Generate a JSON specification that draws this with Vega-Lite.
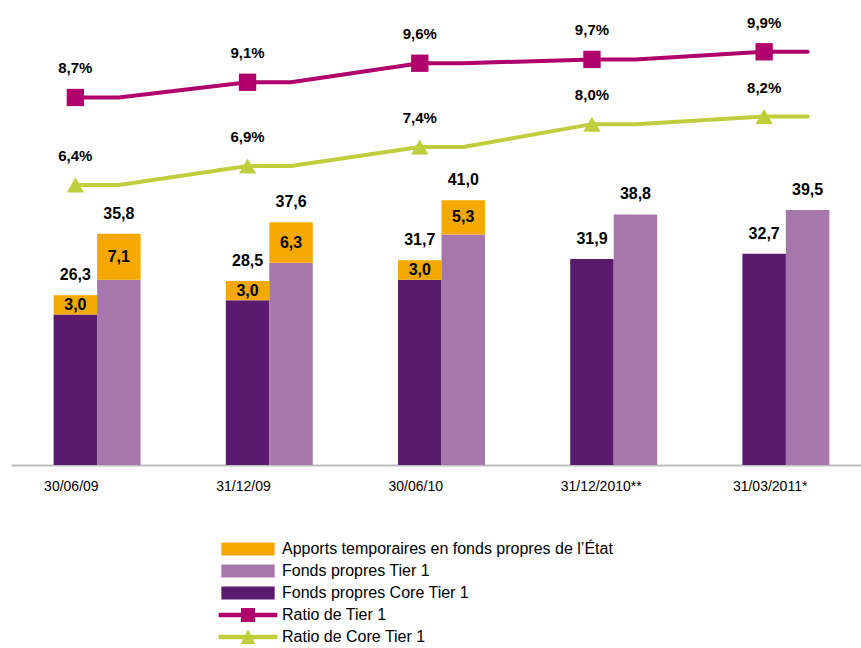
{
  "$schema": "https://vega.github.io/schema/vega-lite/v6.json",
  "width": 850,
  "height": 465,
  "autosize": {"type": "none"},
  "padding": {"left": 11, "top": 0, "right": 0, "bottom": 183},
  "config": {
    "view": {"stroke": null},
    "font": "Liberation Sans",
    "locale": {"number": {"decimal": ",", "thousands": " ", "grouping": [3], "currency": ["", "%"]}}
  },
  "datasets": {
    "bars": [
      {"date": "30/06/09", "bar": "Core", "series": "Fonds propres Core Tier 1", "value": 23.3},
      {"date": "30/06/09", "bar": "Core", "series": "Apports temporaires en fonds propres de l’État", "value": 3.0},
      {"date": "30/06/09", "bar": "Tier1", "series": "Fonds propres Tier 1", "value": 28.7},
      {"date": "30/06/09", "bar": "Tier1", "series": "Apports temporaires en fonds propres de l’État", "value": 7.1},
      {"date": "31/12/09", "bar": "Core", "series": "Fonds propres Core Tier 1", "value": 25.5},
      {"date": "31/12/09", "bar": "Core", "series": "Apports temporaires en fonds propres de l’État", "value": 3.0},
      {"date": "31/12/09", "bar": "Tier1", "series": "Fonds propres Tier 1", "value": 31.3},
      {"date": "31/12/09", "bar": "Tier1", "series": "Apports temporaires en fonds propres de l’État", "value": 6.3},
      {"date": "30/06/10", "bar": "Core", "series": "Fonds propres Core Tier 1", "value": 28.7},
      {"date": "30/06/10", "bar": "Core", "series": "Apports temporaires en fonds propres de l’État", "value": 3.0},
      {"date": "30/06/10", "bar": "Tier1", "series": "Fonds propres Tier 1", "value": 35.7},
      {"date": "30/06/10", "bar": "Tier1", "series": "Apports temporaires en fonds propres de l’État", "value": 5.3},
      {"date": "31/12/2010**", "bar": "Core", "series": "Fonds propres Core Tier 1", "value": 31.9},
      {"date": "31/12/2010**", "bar": "Tier1", "series": "Fonds propres Tier 1", "value": 38.8},
      {"date": "31/03/2011*", "bar": "Core", "series": "Fonds propres Core Tier 1", "value": 32.7},
      {"date": "31/03/2011*", "bar": "Tier1", "series": "Fonds propres Tier 1", "value": 39.5}
    ],
    "ratios": [
      {"date": "30/06/09", "bar": "Core", "series": "Ratio de Tier 1", "ratio": 8.7},
      {"date": "30/06/09", "bar": "Tier1", "series": "Ratio de Tier 1", "ratio": 8.7},
      {"date": "31/12/09", "bar": "Core", "series": "Ratio de Tier 1", "ratio": 9.1},
      {"date": "31/12/09", "bar": "Tier1", "series": "Ratio de Tier 1", "ratio": 9.1},
      {"date": "30/06/10", "bar": "Core", "series": "Ratio de Tier 1", "ratio": 9.6},
      {"date": "30/06/10", "bar": "Tier1", "series": "Ratio de Tier 1", "ratio": 9.6},
      {"date": "31/12/2010**", "bar": "Core", "series": "Ratio de Tier 1", "ratio": 9.7},
      {"date": "31/12/2010**", "bar": "Tier1", "series": "Ratio de Tier 1", "ratio": 9.7},
      {"date": "31/03/2011*", "bar": "Core", "series": "Ratio de Tier 1", "ratio": 9.9},
      {"date": "31/03/2011*", "bar": "Tier1", "series": "Ratio de Tier 1", "ratio": 9.9},
      {"date": "30/06/09", "bar": "Core", "series": "Ratio de Core Tier 1", "ratio": 6.4},
      {"date": "30/06/09", "bar": "Tier1", "series": "Ratio de Core Tier 1", "ratio": 6.4},
      {"date": "31/12/09", "bar": "Core", "series": "Ratio de Core Tier 1", "ratio": 6.9},
      {"date": "31/12/09", "bar": "Tier1", "series": "Ratio de Core Tier 1", "ratio": 6.9},
      {"date": "30/06/10", "bar": "Core", "series": "Ratio de Core Tier 1", "ratio": 7.4},
      {"date": "30/06/10", "bar": "Tier1", "series": "Ratio de Core Tier 1", "ratio": 7.4},
      {"date": "31/12/2010**", "bar": "Core", "series": "Ratio de Core Tier 1", "ratio": 8.0},
      {"date": "31/12/2010**", "bar": "Tier1", "series": "Ratio de Core Tier 1", "ratio": 8.0},
      {"date": "31/03/2011*", "bar": "Core", "series": "Ratio de Core Tier 1", "ratio": 8.2},
      {"date": "31/03/2011*", "bar": "Tier1", "series": "Ratio de Core Tier 1", "ratio": 8.2}
    ]
  },
  "encoding": {
    "x": {
      "field": "date",
      "type": "nominal",
      "sort": ["30/06/09", "31/12/09", "30/06/10", "31/12/2010**", "31/03/2011*"],
      "scale": {"range": [0, 861], "paddingInner": 0.495, "paddingOuter": 0.2475},
      "axis": {
        "title": null,
        "labelAngle": 0,
        "ticks": false,
        "domainColor": "#BEBEBE",
        "domainWidth": 2,
        "labelFont": "Liberation Sans",
        "labelFontSize": 14,
        "labelColor": "#000000",
        "labelPadding": 14,
        "labelAlign": "left",
        "labelOffset": -53
      }
    },
    "xOffset": {"field": "bar", "type": "nominal", "sort": ["Core", "Tier1"]}
  },
  "layer": [
    {
      "data": {"name": "bars"},
      "transform": [
        {"stack": "value", "groupby": ["date", "bar"], "sort": [{"field": "series", "order": "descending"}], "as": ["y0", "y1"]}
      ],
      "layer": [
        {
          "mark": {"type": "bar"},
          "encoding": {
            "y": {"field": "y1", "type": "quantitative", "scale": {"domain": [0, 72], "nice": false, "zero": true}, "axis": null},
            "y2": {"field": "y0"},
            "color": {
              "field": "series",
              "type": "nominal",
              "scale": {
                "domain": ["Apports temporaires en fonds propres de l’État", "Fonds propres Tier 1", "Fonds propres Core Tier 1", "Ratio de Tier 1", "Ratio de Core Tier 1"],
                "range": ["#F5A800", "#A677AB", "#5A1B6E", "#B0006B", "#BFCE3D"]
              },
              "legend": {
                "title": null,
                "orient": "none",
                "direction": "vertical",
                "legendX": 229,
                "legendY": 541,
                "symbolSize": 196,
                "symbolStrokeWidth": 0,
                "symbolOpacity": 1,
                "labelFont": "Liberation Sans",
                "labelFontSize": 16,
                "labelColor": "#000000",
                "labelOffset": 26,
                "labelLimit": 0,
                "rowPadding": 6,
                "padding": 0,
                "encode": {
                  "symbols": {
                    "update": {
                      "shape": {"signal": "datum.value === 'Ratio de Tier 1' ? 'M-4.19,-0.32H4.19V0.32H-4.19Z M-1,-1H1V1H-1Z' : (datum.value === 'Ratio de Core Tier 1' ? 'M-4.19,-0.32H4.19V0.32H-4.19Z M0,-1.1L1.05,1L-1.05,1Z' : 'M-3.81,-0.93H3.81V0.93H-3.81Z')"},
                      "opacity": {"value": 1}
                    }
                  }
                }
              }
            }
          }
        },
        {
          "transform": [
            {"filter": "datum.series === 'Apports temporaires en fonds propres de l’État'"},
            {"calculate": "(datum.y0 + datum.y1) / 2", "as": "mid"}
          ],
          "mark": {"type": "text", "font": "Liberation Sans", "fontSize": 16, "fontWeight": "bold", "color": "#000000", "baseline": "middle", "align": "center"},
          "encoding": {
            "y": {"field": "mid", "type": "quantitative", "scale": {"domain": [0, 72], "nice": false}},
            "text": {"field": "value", "type": "quantitative", "format": ".1f"}
          }
        },
        {
          "transform": [
            {"aggregate": [{"op": "max", "field": "y1", "as": "total"}], "groupby": ["date", "bar"]}
          ],
          "mark": {"type": "text", "font": "Liberation Sans", "fontSize": 16, "fontWeight": "bold", "color": "#000000", "baseline": "middle", "align": "center", "dy": -20},
          "encoding": {
            "y": {"field": "total", "type": "quantitative", "scale": {"domain": [0, 72], "nice": false}},
            "text": {"field": "total", "type": "quantitative", "format": ".1f"}
          }
        }
      ]
    },
    {
      "data": {"name": "ratios"},
      "layer": [
        {
          "mark": {"type": "line", "strokeWidth": 4, "strokeCap": "round"},
          "encoding": {
            "y": {"field": "ratio", "type": "quantitative", "scale": {"domain": [-0.95, 11.26], "nice": false, "zero": false}, "axis": null},
            "color": {"field": "series", "type": "nominal", "legend": null},
            "detail": {"field": "series", "type": "nominal"},
            "order": {"value": null}
          }
        },
        {
          "transform": [{"filter": "datum.bar === 'Core'"}],
          "mark": {"type": "point", "filled": true, "opacity": 1, "size": 300},
          "encoding": {
            "y": {"field": "ratio", "type": "quantitative", "scale": {"domain": [-0.95, 11.26], "nice": false, "zero": false}},
            "color": {"field": "series", "type": "nominal", "legend": null},
            "shape": {"field": "series", "type": "nominal", "scale": {"domain": ["Ratio de Tier 1", "Ratio de Core Tier 1"], "range": ["square", "triangle-up"]}, "legend": null}
          }
        },
        {
          "transform": [{"filter": "datum.bar === 'Core'"}],
          "mark": {"type": "text", "font": "Liberation Sans", "fontSize": 15, "fontWeight": "bold", "color": "#000000", "baseline": "middle", "align": "center", "dy": -29},
          "encoding": {
            "y": {"field": "ratio", "type": "quantitative", "scale": {"domain": [-0.95, 11.26], "nice": false, "zero": false}},
            "text": {"field": "ratio", "type": "quantitative", "format": "$.1f"}
          }
        }
      ]
    }
  ],
  "resolve": {"scale": {"y": "independent"}}
}
